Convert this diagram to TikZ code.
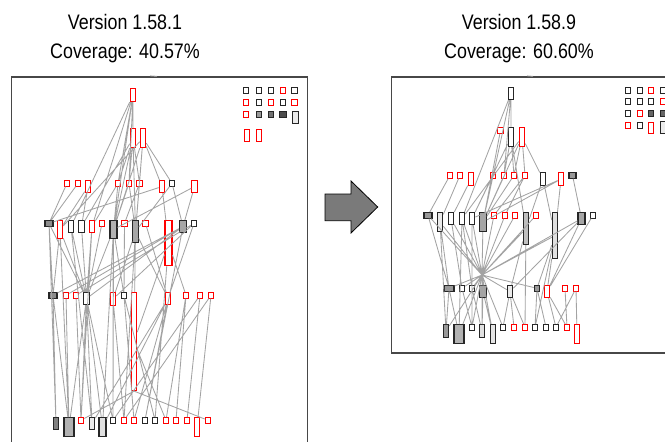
\documentclass[tikz,border=0pt]{standalone}
\usepackage{fontspec}
\newfontfamily\titlefont{Liberation Sans}[FakeStretch=0.85]
\begin{document}
\begin{tikzpicture}[x=1pt,y=-1pt,
  nd/.style={rectangle, inner sep=0pt, minimum width=5.5, minimum height=5.5, line width=1.1pt, anchor=north},
  rn/.style={nd, draw=red},
  kn/.style={nd, draw=black!85},
  ht/.style={minimum height=#1},
  wd/.style={minimum width=#1},
  fl/.style={fill=#1},
  edge/.style={draw=black!36, line width=0.85pt},
  frame/.style={draw=black!72, line width=1.4pt},
  ttl/.style={font=\titlefont\fontsize{21}{25}\selectfont, align=center, anchor=base},
  arrowshape/.style={fill=black!52, draw=black, line width=0.8pt}]
\useasboundingbox (0,0) rectangle (665,442);
\clip (0,0) rectangle (665,442);

% titles
\node[ttl] (t1a) at (125,29) {Version 1.58.1};
\node[ttl] (t1b) at (125,58) {Coverage: 40.57\%};
\node[ttl] (t2a) at (519,29) {Version 1.58.9};
\node[ttl] (t2b) at (519,58) {Coverage: 60.60\%};

% frames
\draw[frame] (11.7,442) -- (11.7,77) -- (307.5,77) -- (307.5,442);
\draw[frame] (665,77) -- (391.7,77) -- (391.7,353) -- (665,353);
\draw[draw=gray!60, line width=0.8pt] (150,75.8) -- (157,76.3);
\draw[draw=gray!60, line width=0.8pt] (527,75.8) -- (533,76.3);

% block arrow
\draw[arrowshape] (325,194) -- (351,194) -- (351,181) -- (377.7,207) -- (351,233) -- (351,220.7) -- (325,220.7) -- cycle;

% ---------------- left graph ----------------
\node[rn, ht=13] (L11) at (133,88) {};
\node[rn, ht=19] (L21) at (133,128) {};
\node[rn, ht=19] (L22) at (143,128) {};

\node[rn] (L31) at (67,180) {};
\node[rn] (L32) at (78,180) {};
\node[rn, ht=12] (L33) at (88,180) {};
\node[rn] (L34) at (118,180) {};
\node[rn] (L35) at (129,180) {};
\node[rn] (L36) at (139.5,180) {};
\node[rn, ht=12] (L37) at (162,180) {};
\node[kn] (L38) at (172,180) {};
\node[rn, ht=12] (L39) at (194.5,180) {};

\node[kn, wd=8, fl=black!45] (L41) at (49,220) {};
\node[rn, ht=18] (L42) at (60,220) {};
\node[kn, ht=12] (L43) at (71,220) {};
\node[kn, ht=12] (L44) at (81.5,220) {};
\node[rn, ht=12] (L45) at (92,220) {};
\node[rn] (L46) at (102,220) {};
\node[kn, wd=7, ht=18, fl=black!30] (L47) at (113.5,220) {};
\node[rn] (L48) at (124.5,220) {};
\node[kn, ht=22, fl=black!35] (L49) at (135.5,220) {};
\node[rn] (L4a) at (145.5,220) {};
\node[rn, wd=7, ht=45] (L4b) at (168.5,220) {};
\node[kn, wd=7, ht=12, fl=black!35] (L4c) at (183,220) {};
\node[kn] (L4d) at (194,220) {};

\node[kn, wd=8, fl=black!45] (L51) at (53,292) {};
\node[rn] (L52) at (66,292) {};
\node[rn] (L53) at (76,292) {};
\node[kn, ht=12] (L54) at (86.5,292) {};
\node[rn, ht=13] (L55) at (113,292) {};
\node[kn] (L56) at (124,292) {};
\node[rn, ht=98] (L57) at (134,292) {};
\node[rn, ht=12] (L58) at (168,292) {};
\node[rn] (L59) at (186,292) {};
\node[rn] (L5a) at (200,292) {};
\node[rn] (L5b) at (211,292) {};

\node[kn, ht=12, fl=black!50] (L61) at (56,417) {};
\node[kn, wd=10, ht=19, fl=black!30] (L62) at (69,417) {};
\node[rn] (L63) at (81,417) {};
\node[kn, ht=12, fl=black!8] (L64) at (92,417) {};
\node[kn, wd=7, ht=19, fl=black!12] (L65) at (102.5,417) {};
\node[kn] (L66) at (113,417) {};
\node[rn] (L67) at (124,417) {};
\node[rn] (L68) at (134,417) {};
\node[kn] (L69) at (145,417) {};
\node[kn] (L6a) at (155,417) {};
\node[rn] (L6b) at (166,417) {};
\node[rn] (L6c) at (176,417) {};
\node[rn] (L6d) at (187,417) {};
\node[rn, ht=19] (L6e) at (197,417) {};
\node[rn] (L6f) at (208,417) {};

% left legend
\node[kn] (la1) at (246,87) {};
\node[kn] (la2) at (259,87) {};
\node[kn] (la3) at (271,87) {};
\node[rn] (la4) at (283,87) {};
\node[kn] (la5) at (294.5,87) {};
\node[rn] (lb1) at (246,99) {};
\node[kn] (lb2) at (259,99) {};
\node[rn] (lb3) at (271,99) {};
\node[kn] (lb4) at (283,99) {};
\node[rn] (lb5) at (294.5,99) {};
\node[rn] (lc1) at (246,111) {};
\node[kn, fl=black!40] (lc2) at (259,111) {};
\node[kn, fl=black!55] (lc3) at (271,111) {};
\node[kn, wd=7.5, fl=black!70] (lc4) at (283,111) {};
\node[kn, ht=12, fl=black!8] (lc5) at (295.5,111) {};
\node[rn, ht=12] (ld1) at (247,129) {};
\node[rn, ht=12] (ld2) at (259,129) {};

\draw[edge]
  (L11) -- (L21) (L11) -- (L34) (L11) -- (L43) (L11) -- (L45) (L11) -- (L47) (L11) -- (L35)
  (L21) -- (L34) (L21) -- (L35) (L21) -- (L36) (L21) -- (L47) (L21) -- (L49) (L21) -- (L44)
  (L22) -- (L36) (L22) -- (L37) (L22) -- (L47) (L22) -- (L42) (L22) -- (L49) (L22) -- (L38)
  (L31) -- (L41) (L32) -- (L41) (L33) -- (L44) (L33) -- (L42)
  (L34) -- (L47) (L34) -- (L45) (L35) -- (L47) (L35) -- (L49) (L36) -- (L48) (L36) -- (L49)
  (L37) -- (L4b) (L37) -- (L41) (L38) -- (L4c) (L39) -- (L4c) (L39) -- (L47) (L38) -- (L49)
  (L41) -- (L51) (L41) -- (L54) (L42) -- (L51) (L42) -- (L54) (L43) -- (L54) (L44) -- (L54)
  (L45) -- (L54) (L46) -- (L54) (L47) -- (L54) (L47) -- (L55) (L47) -- (L56) (L48) -- (L56)
  (L49) -- (L55) (L49) -- (L57) (L49) -- (L58) (L4a) -- (L58) (L4b) -- (L57) (L4b) -- (L59)
  (L4c) -- (L51) (L4c) -- (L54) (L4c) -- (L52) (L4d) -- (L58) (L4d) -- (L55) (L4d) -- (L53)
  (L51) -- (L61) (L51) -- (L62) (L52) -- (L62) (L53) -- (L63) (L54) -- (L62) (L54) -- (L63)
  (L54) -- (L64) (L54) -- (L65) (L54) -- (L66) (L55) -- (L66) (L55) -- (L67) (L56) -- (L6a)
  (L56) -- (L68) (L57.south) -- (L63) (L57.south) -- (L6f) (L57) -- (L6b) (L58) -- (L68)
  (L58) -- (L69) (L58) -- (L64) (L58) -- (L65) (L59) -- (L6b) (L59) -- (L6c) (L5a) -- (L6d)
  (L5a) -- (L66) (L5b) -- (L6e) (L5b) -- (L67)
  (L41) -- (L61) (L42) -- (L62) (L43) -- (L64) (L47) -- (L65) (L47) -- (L66) (L49) -- (L67)
  (L4b) -- (L6a) (L4c) -- (L69) (L45) -- (L63);

% ---------------- right graph ----------------
\node[kn, ht=12] (R11) at (511,87) {};
\node[rn] (R21) at (500.5,127) {};
\node[kn, ht=19] (R22) at (511,127) {};
\node[rn, ht=19] (R23) at (522,127) {};

\node[rn] (R31) at (450,172) {};
\node[rn] (R32) at (460,172) {};
\node[rn, ht=13] (R33) at (471,172) {};
\node[rn] (R34) at (493,172) {};
\node[rn] (R35) at (504,172) {};
\node[rn] (R36) at (514,172) {};
\node[rn] (R37) at (525,172) {};
\node[kn, ht=13] (R38) at (543,172) {};
\node[rn, ht=13] (R39) at (561,172) {};
\node[kn, wd=7, fl=black!40] (R3a) at (572.5,172) {};

\node[kn, wd=8, fl=black!40] (R41) at (428,212) {};
\node[kn, ht=19, fl=black!8] (R42) at (440,212) {};
\node[kn, ht=12] (R43) at (451,212) {};
\node[kn, ht=12] (R44) at (462,212) {};
\node[kn, ht=12] (R45) at (472,212) {};
\node[kn, wd=6.5, ht=19, fl=black!35] (R46) at (483,212) {};
\node[rn] (R47) at (494,212) {};
\node[rn] (R48) at (505,212) {};
\node[rn] (R49) at (515,212) {};
\node[kn, ht=32, fl=black!25] (R4a) at (526,212) {};
\node[rn] (R4b) at (536,212) {};
\node[kn, ht=46, fl=black!12] (R4c) at (555,212) {};
\node[kn, wd=7, ht=12, fl=black!35] (R4d) at (581.5,212) {};
\node[kn] (R4e) at (593,212) {};

\node[kn, wd=10, fl=black!40] (R51) at (449,285) {};
\node[kn] (R52) at (462,285) {};
\node[kn] (R53) at (472,285) {};
\node[kn, wd=6.5, ht=12, fl=black!35] (R54) at (483,285) {};
\node[kn, ht=12, fl=black!8] (R55) at (510,285) {};
\node[kn, fl=black!40] (R56) at (537,285) {};
\node[rn, ht=12] (R57) at (547,285) {};
\node[rn] (R58) at (565,285) {};
\node[rn] (R59) at (576,285) {};

\node[kn, ht=13, fl=black!40] (R61) at (446,324) {};
\node[kn, wd=10, ht=19, fl=black!30] (R62) at (459,324) {};
\node[kn] (R63) at (472,324) {};
\node[kn, ht=13, fl=black!12] (R64) at (482,324) {};
\node[kn, ht=19, fl=black!10] (R65) at (493,324) {};
\node[kn] (R66) at (503,324) {};
\node[rn] (R67) at (514,324) {};
\node[rn] (R68) at (525,324) {};
\node[kn] (R69) at (535,324) {};
\node[kn] (R6a) at (546,324) {};
\node[kn] (R6b) at (556,324) {};
\node[rn] (R6c) at (567,324) {};
\node[rn, ht=19] (R6d) at (577,324) {};

% right legend
\node[kn] (ra1) at (628,87) {};
\node[kn] (ra2) at (640,87) {};
\node[rn] (ra3) at (651,87) {};
\node[kn] (ra4) at (663,87) {};
\node[kn] (rb1) at (628,98) {};
\node[kn] (rb2) at (640,98) {};
\node[kn] (rb3) at (651,98) {};
\node[rn] (rb4) at (663,98) {};
\node[kn] (rc1) at (628,110) {};
\node[rn] (rc2) at (640,110) {};
\node[kn, fl=black!60] (rc3) at (651,110) {};
\node[kn, fl=black!60] (rc4) at (663,110) {};
\node[rn] (rd1) at (628,122) {};
\node[kn] (rd2) at (640,122) {};
\node[rn, ht=11] (rd3) at (651,122) {};
\node[kn, wd=7, ht=12, fl=black!8] (rd4) at (664,121) {};

% meeting point of the lower edges
\coordinate (hub) at (482,275);

\draw[edge]
  (R11) -- (R22) (R11) -- (R35) (R11) -- (R46) (R11) -- (R44)
  (R21) -- (R46)
  (R22) -- (R35) (R22) -- (R36) (R22) -- (R45) (R22) -- (R4a)
  (R23) -- (R36) (R23) -- (R37) (R23) -- (R38) (R23) -- (R46) (R23) -- (R44)
  (R31) -- (R41) (R32) -- (R42) (R33) -- (R43) (R34) -- (R45) (R35) -- (R46) (R36) -- (R46)
  (R37) -- (R47) (R37) -- (R48) (R38) -- (R4c) (R38) -- (R4a) (R39) -- (R4c) (R39) -- (R46)
  (R39) -- (R45) (R3a) -- (R4d)
  (R41) -- (hub) (R42) -- (hub) (R43) -- (hub) (R44) -- (hub) (R45) -- (hub) (R46) -- (hub)
  (R47) -- (hub) (R48) -- (hub) (R49) -- (hub) (R4a) -- (hub) (R4c) -- (hub) (R4d) -- (hub)
  (R4b) -- (hub)
  (hub) -- (R51) (hub) -- (R52) (hub) -- (R53) (hub) -- (R54) (hub) -- (R55) (hub) -- (R56)
  (hub) -- (R61) (hub) -- (R62) (hub) -- (R63) (hub) -- (R64) (hub) -- (R65) (hub) -- (R66)
  (R41) -- (R51) (R42) -- (R51) (R43) -- (R52) (R44) -- (R53) (R4a) -- (R55) (R4c) -- (R56)
  (R4c) -- (R57) (R4d) -- (R57) (R4d) -- (R55) (R4e) -- (R57)
  (R51) -- (R61) (R51) -- (R62) (R52) -- (R63) (R53) -- (R64) (R54) -- (R64) (R54) -- (R65)
  (R55) -- (R66) (R55) -- (R67) (R55) -- (R68) (R56) -- (R6a) (R56) -- (R69) (R57) -- (R6b)
  (R57) -- (R6c) (R58) -- (R6c) (R59) -- (R6d) (R59) -- (R6b)
  (R42) -- (R61) (R45) -- (R63) (R4a) -- (R68) (R4c) -- (R69) (R44) -- (R62);
\end{tikzpicture}
\end{document}
